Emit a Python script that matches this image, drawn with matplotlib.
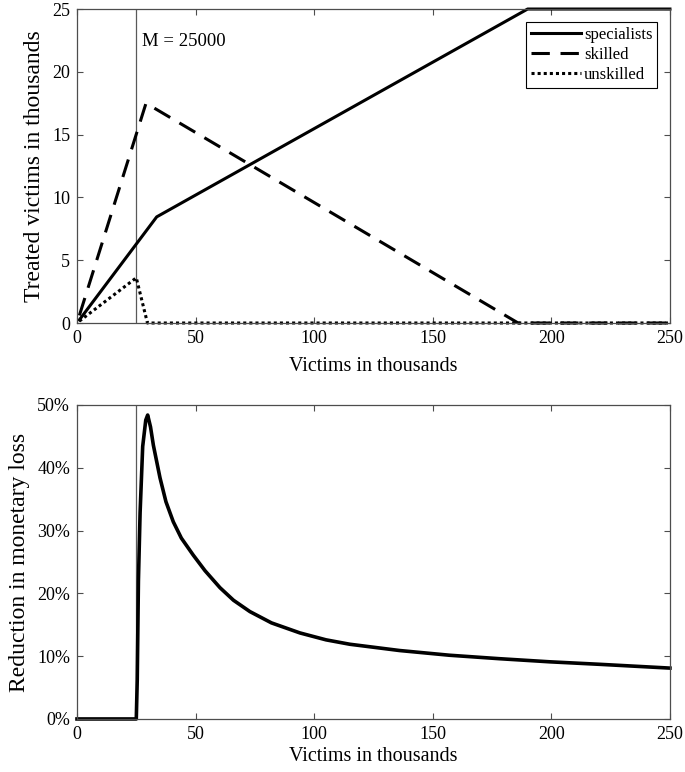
import numpy as np
import matplotlib
matplotlib.use("Agg")
import matplotlib.pyplot as plt
from matplotlib.ticker import PercentFormatter

plt.rcParams['font.family'] = ['Liberation Serif', 'DejaVu Serif']
plt.rcParams['font.size'] = 13

# ---- data (victims in thousands) ----
spec_x = [1, 33.6, 190, 250]
spec_y = [0.25, 8.45, 25, 25]

skill_x = [1, 29.1, 186, 250]
skill_y = [0.6, 17.5, 0, 0]

unsk_x = [1, 25, 29.7, 250]
unsk_y = [0.15, 3.6, 0, 0]

M = 25

red_x = [0, 25, 25.4, 25.9, 26.6, 27.7, 29.0, 29.8, 31.0, 32.2, 35.0, 37.5,
         40.6, 44, 49.0, 54, 60.3, 66, 72.9, 82, 94, 105, 115, 136, 157, 178,
         199.4, 220.5, 250]
red_y = [0, 0, 6.2, 22.0, 32.8, 43.4, 47.6, 48.4, 46.5, 43.6, 38.4, 34.6,
         31.4, 28.8, 26.1, 23.6, 20.9, 18.9, 17.1, 15.3, 13.7, 12.6, 11.9,
         10.9, 10.15, 9.6, 9.1, 8.7, 8.1]

fig = plt.figure(figsize=(6.85, 7.72), dpi=100)
ax1 = fig.add_axes([0.1124, 0.5816, 0.8656, 0.4067])
ax2 = fig.add_axes([0.1124, 0.0687, 0.8656, 0.4067])

"""========== top panel =========="""
ax1.axvline(M, color='0.35', lw=0.9)
ax1.plot(spec_x, spec_y, color='k', lw=2.2, ls='-', label='specialists', clip_on=False)
ax1.plot(skill_x, skill_y, color='k', lw=2.2, ls=(0, (6, 3.5)), label='skilled', clip_on=False)
ax1.plot(unsk_x, unsk_y, color='k', lw=2.2, ls=(0, (1, 1)), label='unskilled', clip_on=False)
ax1.text(27.3, 22.4, 'M = 25000', fontsize=13.5, va='center', ha='left')
ax1.set_xlim(0, 250)
ax1.set_ylim(0, 25)
ax1.set_xticks([0, 50, 100, 150, 200, 250])
ax1.set_yticks([0, 5, 10, 15, 20, 25])
ax1.set_xlabel('Victims in thousands', fontsize=14.5, labelpad=7)
ax1.set_ylabel('Treated victims in thousands', fontsize=17, labelpad=5)
leg = ax1.legend(loc='upper right', fontsize=12, handlelength=3,
                 fancybox=False, framealpha=1, edgecolor='k',
                 borderaxespad=0.75, labelspacing=0.25, handletextpad=0.2,
                 borderpad=0.3)
leg.get_frame().set_linewidth(0.8)

"""========== bottom panel =========="""
ax2.axvline(M, color='0.35', lw=0.9)
ax2.plot(red_x, red_y, color='k', lw=2.6, clip_on=False)
ax2.set_xlim(0, 250)
ax2.set_ylim(0, 50)
ax2.set_xticks([0, 50, 100, 150, 200, 250])
ax2.set_yticks([0, 10, 20, 30, 40, 50])
ax2.yaxis.set_major_formatter(PercentFormatter(decimals=0))
ax2.set_xlabel('Victims in thousands', fontsize=14.5, labelpad=3)
ax2.set_ylabel('Reduction in monetary loss', fontsize=17, labelpad=5)

for ax in (ax1, ax2):
    ax.tick_params(direction='in', top=True, right=True, length=4,
                   width=0.8, color='0.3', labelsize=13, pad=5)
    for s in ax.spines.values():
        s.set_color('0.3')
        s.set_linewidth(0.9)

plt.savefig('out.png', dpi=100)
